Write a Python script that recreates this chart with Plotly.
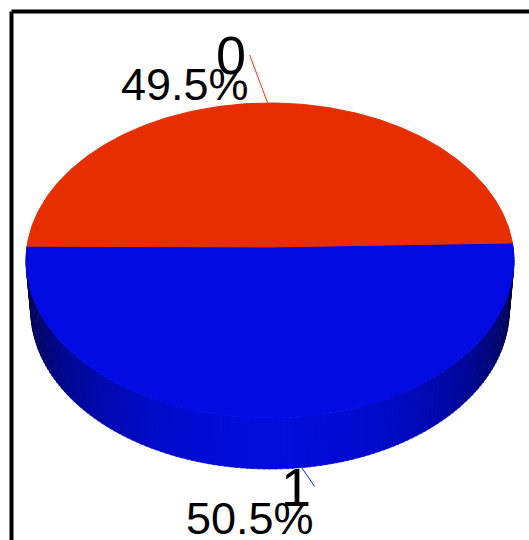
import numpy as np
import plotly.graph_objects as go

# ---- data ----
categories = ["0", "1"]
values = [49.5, 50.5]
slice_colors = [(230, 46, 0), (2, 12, 226)]
leader_colors = ["#FF3000", "#1020FF"]

# ---- style / geometry (pixel space) ----
W, H = 529, 540
CX, CY = 270, 247
D = 1.0
PHI = np.radians(40.04)
R = 0.1120
F = 2170.0
DEPTH = 0.0307
START = 1.5
label_nudge_deg = [0.0, 6.4]
leader_vec = [(-18, -48), (13, 19)]
pct_dy = [29, 32]


def proj(theta_deg, hgt):
    t = np.radians(theta_deg)
    X = R * np.cos(t)
    Z = R * np.sin(t)
    yc = Z * np.sin(PHI) + hgt * np.cos(PHI)
    zc = D + Z * np.cos(PHI) - hgt * np.sin(PHI)
    return CX + F * X / zc, CY - F * yc / zc


total = sum(values)
spans = [v / total * 360.0 for v in values]
bounds = [START]
for s in spans:
    bounds.append(bounds[-1] + s)


def slice_of(theta):
    rel = (theta - START) % 360.0
    acc = 0.0
    for i, s in enumerate(spans):
        acc += s
        if rel < acc:
            return i
    return len(spans) - 1


def rgb(c, f=1.0):
    return "rgb(%d,%d,%d)" % tuple(int(round(min(255, v * f))) for v in c)


fig = go.Figure()

# side walls (front half only)
edges = np.linspace(180.0, 360.0, 145)
for a0, a1 in zip(edges[:-1], edges[1:]):
    mid = 0.5 * (a0 + a1)
    i = slice_of(mid)
    s = max(0.0, -np.sin(np.radians(mid)))
    f = 0.25 + 0.72 * s ** 1.2
    col = rgb(slice_colors[i], f)
    xa, ya = proj(a0 - 0.15, 0.0)
    xb, yb = proj(a1 + 0.15, 0.0)
    xc, yc = proj(a1 + 0.15, -DEPTH)
    xd, yd = proj(a0 - 0.15, -DEPTH)
    fig.add_trace(go.Scatter(
        x=[xa, xb, xc, xd, xa], y=[ya, yb, yc, yd, ya], mode="lines",
        fill="toself", fillcolor=col, line=dict(color=col, width=0.6),
        hoverinfo="skip", showlegend=False))

# top faces (draw larger slice first)
order = sorted(range(len(values)), key=lambda k: -values[k])
for i in order:
    th = np.linspace(bounds[i], bounds[i + 1], 200)
    px, py = proj(th, 0.0)
    xs = [CX] + list(px) + [CX]
    ys = [CY] + list(py) + [CY]
    col = rgb(slice_colors[i])
    fig.add_trace(go.Scatter(
        x=xs, y=ys, mode="lines", fill="toself", fillcolor=col,
        line=dict(color=col, width=1), hoverinfo="skip", showlegend=False))

# leaders + labels
annotations = []
for i, (cat, v) in enumerate(zip(categories, values)):
    mid = 0.5 * (bounds[i] + bounds[i + 1]) + label_nudge_deg[i]
    near = np.sin(np.radians(mid)) < 0
    ax, ay = proj(mid, -DEPTH if near else 0.0)
    ex, ey = ax + leader_vec[i][0], ay + leader_vec[i][1]
    fig.add_trace(go.Scatter(
        x=[ax, ex], y=[ay, ey], mode="lines",
        line=dict(color=leader_colors[i], width=1),
        hoverinfo="skip", showlegend=False))
    annotations.append(dict(
        x=ex - 2, y=ey, xref="x", yref="y", text=cat, showarrow=False,
        xanchor="right", yanchor="middle",
        font=dict(family="Liberation Sans, Arial, sans-serif", size=54, color="black")))
    annotations.append(dict(
        x=ex + 1, y=ey + pct_dy[i], xref="x", yref="y", text="%.1f%%" % v, showarrow=False,
        xanchor="right", yanchor="middle",
        font=dict(family="Liberation Sans, Arial, sans-serif", size=45, color="black")))

# frame (top and left borders)
shapes = [
    dict(type="line", xref="x", yref="y", x0=11.5, y0=11.5, x1=W + 5, y1=11.5,
         line=dict(color="black", width=4)),
    dict(type="line", xref="x", yref="y", x0=11.5, y0=11.5, x1=11.5, y1=H + 5,
         line=dict(color="black", width=4)),
]

fig.update_layout(
    width=W, height=H, margin=dict(l=0, r=0, t=0, b=0),
    paper_bgcolor="white", plot_bgcolor="white",
    xaxis=dict(range=[0, W], visible=False, fixedrange=True),
    yaxis=dict(range=[H, 0], visible=False, fixedrange=True),
    annotations=annotations, shapes=shapes, showlegend=False,
)

fig.write_html("out.html", config={"displayModeBar": False})
